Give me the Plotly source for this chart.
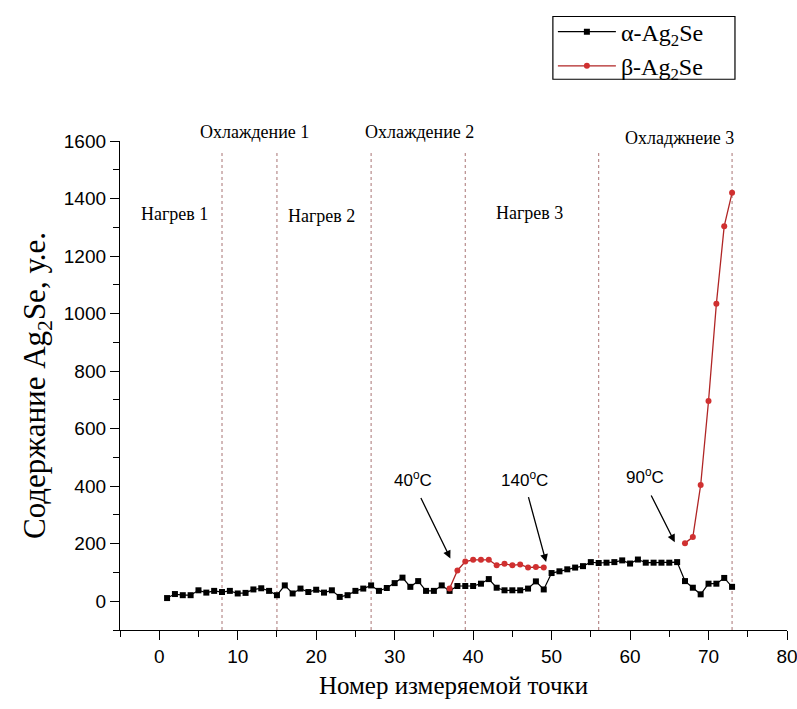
import plotly.graph_objects as go

# Measurement index and Ag2Se content (arb. units)
alpha_x = list(range(1, 74))
alpha_y = [11, 25, 21, 21, 38, 30, 36, 32, 36, 27,
           29, 41, 45, 36, 21, 55, 27, 44, 32, 40,
           30, 38, 15, 21, 36, 44, 55, 36, 46, 63,
           82, 50, 70, 36, 36, 55, 36, 53, 53, 53,
           61, 77, 47, 38, 38, 38, 44, 69, 41, 98,
           104, 111, 117, 122, 136, 133, 134, 136, 142, 131,
           145, 134, 134, 134, 134, 136, 70, 47, 24, 61,
           61, 81, 50]

# beta phase: two runs separated by a gap (None breaks the line)
beta_x = [37, 38, 39, 40, 41, 42, 43, 44, 45, 46, 47, 48, 49, None,
          67, 68, 69, 70, 71, 72, 73]
beta_y = [44, 107, 138, 144, 144, 144, 125, 130, 125, 128, 117, 119, 117, None,
          202, 223, 404, 696, 1034, 1304, 1420]

# stage boundaries
boundaries = [8, 15, 27, 39, 56, 73]

# heating stage labels inside the plot: (text, x, y)
heat_labels = [
    ("Нагрев 1", 1.9, 1347),
    ("Нагрев 2", 20.7, 1340),
    ("Нагрев 3", 47.2, 1350),
]
# cooling stage labels above the plot: (text, x, paper y)
cool_labels = [
    ("Охлаждение 1", 12.1, 1.018),
    ("Охлаждение 2", 33.2, 1.018),
    ("Охладжнеие 3", 66.3, 1.006),
]

# temperature marks: (text, text_x, text_y, tail_x, tail_y, head_x, head_y)
temp_marks = [
    ("40<sup>o</sup>C", 32.3, 425, 33.25, 364, 37.1, 149),
    ("140<sup>o</sup>C", 46.6, 425, 47.0, 367, 49.3, 136),
    ("90<sup>o</sup>C", 61.9, 436, 62.6, 373, 65.7, 205),
]

serif = "Liberation Serif, Times New Roman, serif"
sans = "Liberation Sans, Arial, sans-serif"

fig = go.Figure()

fig.add_trace(go.Scatter(
    x=alpha_x, y=alpha_y, mode="lines+markers", name="α-Ag<sub>2</sub>Se",
    line=dict(color="black", width=1.2),
    marker=dict(symbol="square", size=6, color="black"),
))
fig.add_trace(go.Scatter(
    x=beta_x, y=beta_y, mode="lines+markers", name="β-Ag<sub>2</sub>Se",
    connectgaps=False,
    line=dict(color="#b02525", width=1.3),
    marker=dict(symbol="circle", size=6, color="#d03030"),
))

for bx in boundaries:
    fig.add_shape(type="line", xref="x", yref="y", x0=bx, x1=bx, y0=-100, y1=1562,
                  line=dict(color="#b08080", width=1.1, dash="dot"), layer="below")

# frame around the legend
fig.add_shape(type="rect", xref="paper", yref="paper",
              x0=0.649, x1=0.922, y0=1.1263, y1=1.2546,
              line=dict(color="black", width=1.2), fillcolor="rgba(0,0,0,0)")

for text, lx, ly in heat_labels:
    fig.add_annotation(x=lx, y=ly, xref="x", yref="y", text=text, showarrow=False,
                       font=dict(family=serif, size=18, color="black"))
for text, lx, py in cool_labels:
    fig.add_annotation(x=lx, y=py, xref="x", yref="paper", text=text, showarrow=False,
                       yanchor="middle",
                       font=dict(family=serif, size=18, color="black"))

for text, tx, ty, ax0, ay0, hx, hy in temp_marks:
    fig.add_annotation(x=tx, y=ty, xref="x", yref="y", text=text, showarrow=False,
                       font=dict(family=sans, size=17, color="black"))
    fig.add_annotation(x=hx, y=hy, ax=ax0, ay=ay0, xref="x", yref="y",
                       axref="x", ayref="y", text="", showarrow=True,
                       arrowhead=2, arrowsize=1.2, arrowwidth=1.3, arrowcolor="black")

fig.update_layout(
    width=797, height=709,
    margin=dict(l=120, r=10, t=139, b=79),
    paper_bgcolor="white", plot_bgcolor="white",
    showlegend=True,
    legend=dict(x=0.649, y=1.2688, xanchor="left", yanchor="top",
                borderwidth=0, bgcolor="rgba(0,0,0,0)",
                font=dict(family=serif, size=24, color="black"),
                itemwidth=58, tracegroupgap=0),
)

fig.update_xaxes(
    range=[-5, 80], tickmode="linear", tick0=0, dtick=10, automargin=False,
    ticklabeloverflow="allow",
    showline=True, linecolor="black", linewidth=1.3,
    ticks="outside", ticklen=9, tickwidth=1.3, tickcolor="black",
    minor=dict(ticks="outside", ticklen=6, tickwidth=1.2, tickcolor="black", dtick=5, tick0=0),
    showgrid=False, zeroline=False,
    tickfont=dict(family=sans, size=19, color="black"),
    title=dict(text="Номер измеряемой точки", standoff=10,
               font=dict(family=serif, size=25, color="black")),
)
fig.update_yaxes(
    range=[-100, 1600], tickmode="linear", tick0=0, dtick=200, automargin=False,
    showline=True, linecolor="black", linewidth=1.3,
    ticks="outside", ticklen=9, tickwidth=1.3, tickcolor="black",
    minor=dict(ticks="outside", ticklen=6, tickwidth=1.2, tickcolor="black", dtick=100, tick0=0),
    showgrid=False, zeroline=False,
    tickfont=dict(family=sans, size=19, color="black"),
    title=dict(text="Содержание Ag<sub>2</sub>Se, у.е.", standoff=8,
               font=dict(family=serif, size=31, color="black")),
)

fig.write_html("out.html")
